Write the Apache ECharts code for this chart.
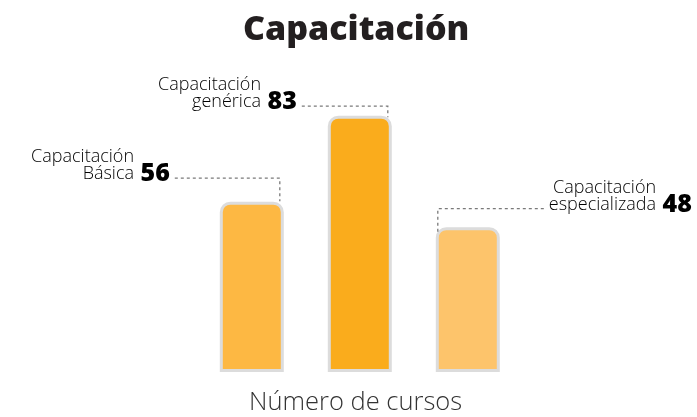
<!DOCTYPE html>
<html><head><meta charset="utf-8">
<script src="https://cdn.jsdelivr.net/npm/echarts@6/dist/echarts.min.js"></script>
<style>html,body{margin:0;padding:0;background:#fff}#c{width:697px;height:417px}</style>
</head><body><div id="c"></div>
<script>
// ---- data ----
const categories = ['Capacitación Básica', 'Capacitación genérica', 'Capacitación especializada'];
const labelLine1 = ['Capacitación', 'Capacitación', 'Capacitación'];
const labelLine2 = ['Básica', 'genérica', 'especializada'];
const values = [56, 83, 48];
const barColors = ['#FDB843', '#FAAC1C', '#FDC46B'];
const titleText = 'Capacitación';
const axisTitle = 'Número de cursos';

// ---- callout layout (px) ----
const calloutSide = ['left', 'left', 'right'];
const calloutRise = [22, 8, 17];
const calloutLen = [105, 86, 106];
const calloutDrop = [1, 3, 6];

const numFont = '800 25px "Open Sans"';
const measureCtx = document.createElement('canvas').getContext('2d');
function textWidth(t) { measureCtx.font = numFont; return measureCtx.measureText(t).width; }

const chart = echarts.init(document.getElementById('c'), null, {renderer: 'canvas'});

function renderItem(params, api) {
  const i = params.dataIndex;
  const pt = api.coord([api.value(0), api.value(1)]);
  const top = pt[1] - 1.5;
  const side = calloutSide[i];
  const vx = pt[0] + (side === 'left' ? 28 : -30);
  const ly = top - calloutRise[i];
  const ex = side === 'left' ? vx - calloutLen[i] : vx + calloutLen[i];
  const num = String(values[i]);
  const pad = textWidth(' ' + num);
  return {
    type: 'group',
    children: [
      {
        type: 'polyline',
        shape: {points: [[ex, ly], [vx, ly], [vx, top + calloutDrop[i]]]},
        style: {stroke: '#7a7a7a', lineWidth: 1.3, lineDash: [3, 3], fill: null}
      },
      {
        type: 'text',
        x: side === 'left' ? ex - 5 : ex + 5,
        y: ly + 5,
        style: {
          text: '{a1|' + labelLine1[i] + '}\n{a|' + labelLine2[i] + '}{b| ' + num + '}',
          align: side === 'left' ? 'right' : 'left',
          verticalAlign: 'bottom',
          rich: {
            a1: {fontFamily: 'Open Sans', fontWeight: 300, fontSize: 18, lineHeight: 16, color: '#231f20', align: 'right', padding: [0, pad, 0, 0]},
            a: {fontFamily: 'Open Sans', fontWeight: 300, fontSize: 18, lineHeight: 18, color: '#231f20', align: 'right'},
            b: {fontFamily: 'Open Sans', fontWeight: 800, fontSize: 25, lineHeight: 18, color: '#231f20', align: 'right'}
          }
        }
      }
    ]
  };
}

chart.setOption({
  animation: false,
  backgroundColor: '#ffffff',
  title: [
    {text: titleText, left: 238, top: 8,
     textStyle: {fontFamily: 'Open Sans', fontWeight: 800, fontSize: 34, color: '#231f20'}},
    {text: axisTitle, left: 244, top: 385,
     textStyle: {fontFamily: 'Open Sans', fontWeight: 300, fontSize: 25.5, color: '#333333'}}
  ],
  grid: {left: 197.8, width: 324, top: 61.5, bottom: 46.5},
  xAxis: {type: 'category', data: categories, show: false},
  yAxis: {type: 'value', min: 3, max: 100, show: false},
  series: [
    {
      type: 'bar',
      barWidth: 64,
      data: values.map((v, i) => ({value: v, itemStyle: {color: barColors[i]}})),
      itemStyle: {borderColor: '#DCDCDC', borderWidth: 3, borderRadius: [9, 9, 0, 0]}
    },
    {
      type: 'custom',
      renderItem: renderItem,
      clip: false,
      data: values.map((v, i) => [i, v]),
      z: 5
    }
  ]
});
</script></body></html>
